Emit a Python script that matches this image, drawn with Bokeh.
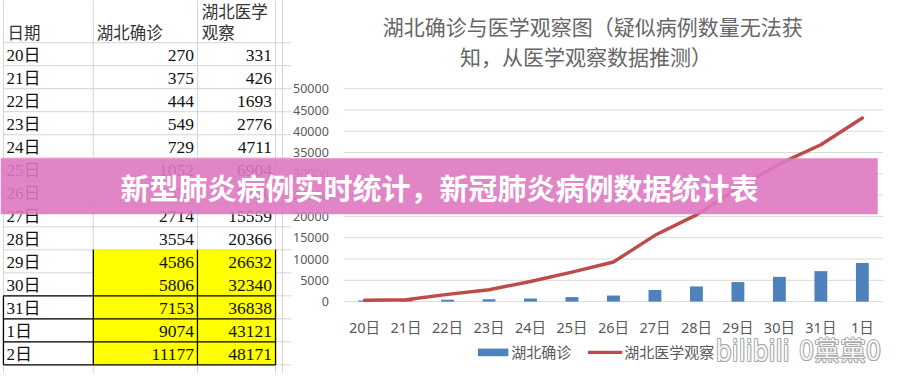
from bokeh.plotting import figure
from bokeh.models import Range1d
from bokeh.core.properties import value
from bokeh.embed import file_html
from bokeh.resources import INLINE

# ---------------- data ----------------
table_dates = ["20日", "21日", "22日", "23日", "24日", "25日", "26日",
               "27日", "28日", "29日", "30日", "31日", "1日", "2日"]
hubei_confirmed = [270, 375, 444, 549, 729, 1052, 1423, 2714, 3554,
                   4586, 5806, 7153, 9074, 11177]
hubei_observed = [331, 426, 1693, 2776, 4711, 6904, 9300, 15559, 20366,
                  26632, 32340, 36838, 43121, 48171]
header_labels = ["日期", "湖北确诊", "湖北医学", "观察"]

chart_days = table_dates[:13]
chart_confirmed = hubei_confirmed[:13]
chart_observed = hubei_observed[:13]
y_ticks = [0, 5000, 10000, 15000, 20000, 25000, 30000, 35000, 40000, 45000, 50000]
y_tick_labels = [str(t) for t in y_ticks]

title_lines = ["湖北确诊与医学观察图（疑似病例数量无法获", "知，从医学观察数据推测）"]
legend_labels = ["湖北确诊", "湖北医学观察"]
banner_text = "新型肺炎病例实时统计，新冠肺炎病例数据统计表"
watermark = ["bilibili", "0黨黨0"]

# ---------------- styles ----------------
CJK = value("Noto Sans CJK SC")
TABLE_FONT = value("Liberation Serif, Noto Sans CJK SC")
GREY_TXT = "#595959"
BAR_C = "#4f81bd"
LINE_C = "#be4b48"
GRID_C = "#d9d9d9"
CELL_C = "#d4d4d4"

# canvas in reference pixel units (904 x 389), y downward
p = figure(width=888, height=373, x_range=Range1d(0, 904), y_range=Range1d(389, 0),
           x_axis_type=None, y_axis_type=None, output_backend="svg",
           toolbar_location=None, min_border=0)
p.outline_line_color = None
p.background_fill_color = "white"
p.border_fill_color = "white"

# ---------------- left table ----------------
n_rows = len(table_dates)
row_top0, row_h = 44, 24
row_edges = [row_top0 + row_h * i for i in range(n_rows + 1)]
row_mid = [row_top0 + row_h * i + 13 for i in range(n_rows)]
col_edges = [3, 94.5, 200.5, 280, 287]

p.segment(x0=3, x1=296, y0=row_edges, y1=row_edges, line_color=CELL_C, line_width=1)
p.segment(x0=col_edges, x1=col_edges, y0=0, y1=389, line_color=CELL_C, line_width=1)

hl0 = table_dates.index("29日")
p.quad(left=col_edges[1], right=col_edges[3], top=row_edges[hl0], bottom=row_edges[-1],
       fill_color="#ffff00", line_color=None)
box0 = table_dates.index("31日")
p.segment(x0=col_edges[0], x1=col_edges[3], y0=row_edges[box0:], y1=row_edges[box0:],
          line_color="black", line_width=1.3)
p.segment(x0=col_edges[1:4], x1=col_edges[1:4], y0=row_edges[hl0], y1=row_edges[-1],
          line_color="black", line_width=1.3)
p.segment(x0=col_edges[0], x1=col_edges[0], y0=row_edges[box0], y1=row_edges[-1],
          line_color="black", line_width=1.3)

p.text(x=[7, 98], y=[33, 33], text=header_labels[:2], text_font=CJK,
       text_font_size="16.5px", text_color="#333333", text_baseline="middle")
p.text(x=[205, 205], y=[11, 33], text=header_labels[2:], text_font=CJK,
       text_font_size="16.5px", text_color="#333333", text_baseline="middle")

p.text(x=6, y=row_mid, text=table_dates, text_font=TABLE_FONT, text_font_size="17px",
       text_color="#111111", text_baseline="middle")
p.text(x=197, y=row_mid, text=[str(v) for v in hubei_confirmed], text_font=TABLE_FONT,
       text_font_size="17.5px", text_color="#111111", text_baseline="middle", text_align="right")
p.text(x=276.5, y=row_mid, text=[str(v) for v in hubei_observed], text_font=TABLE_FONT,
       text_font_size="17.5px", text_color="#111111", text_baseline="middle", text_align="right")

# ---------------- chart ----------------
p.text(x=[603, 596], y=[27, 58], text=title_lines, text_font=CJK, text_font_size="21px",
       text_color="#666666", text_align="center", text_baseline="middle")

plot_left, plot_right, y_bottom, y_top = 349.5, 898.5, 314, 92
n_cat = len(chart_days)
ch = p.subplot(x_source=Range1d(0, n_cat), y_source=Range1d(0, 50000),
               x_target=Range1d(plot_left, plot_right), y_target=Range1d(y_bottom, y_top))
cat_x = [i + 0.5 for i in range(n_cat)]

ch.segment(x0=0, x1=n_cat, y0=y_ticks, y1=y_ticks, line_color=GRID_C, line_width=1)
ch.text(x=0, y=y_ticks, text=y_tick_labels, x_offset=-15, text_align="right",
        text_baseline="middle", text_font=value("Noto Sans"), text_font_size="12.5px",
        text_color=GREY_TXT)

ch.vbar(x=cat_x, top=chart_confirmed, bottom=0, width=0.31,
        fill_color=BAR_C, line_color=None)
ch.line(x=cat_x, y=chart_observed, line_color=LINE_C, line_width=3.4,
        line_join="round", line_cap="round")
ch.text(x=cat_x, y=0, text=chart_days, y_offset=25, text_align="center",
        text_baseline="middle", text_font=value("Noto Sans, Noto Sans CJK SC"),
        text_font_size="14.5px", text_color=GREY_TXT)

# legend
p.quad(left=486, right=517, top=363, bottom=371, fill_color=BAR_C, line_color=None)
p.segment(x0=598, x1=633, y0=367, y1=367, line_color=LINE_C, line_width=3.4)
p.text(x=[520, 635], y=[366, 366], text=legend_labels, text_font=CJK,
       text_font_size="15px", text_color=GREY_TXT, text_baseline="middle")

# watermark (outlined look)
wm_font = value("DejaVu Sans Condensed, Noto Sans CJK SC")
wm_sizes = ["28px", "26px"]
for i, (wx, wtxt) in enumerate(zip([728, 813], watermark)):
    for dx, dy in [(-1, 0), (1, 0), (0, -1), (0, 1), (-0.7, -0.7), (0.7, 0.7), (-0.7, 0.7), (0.7, -0.7)]:
        p.text(x=[wx + dx], y=[366 + dy], text=[wtxt], text_font=wm_font,
               text_font_size=wm_sizes[i], text_color="#a8a8a8", text_baseline="middle")
    p.text(x=[wx], y=[366], text=[wtxt], text_font=wm_font, text_font_size=wm_sizes[i],
           text_color="#f6f6f6", text_baseline="middle")

# ---------------- banner ----------------
p.quad(left=0, right=893, top=164.5, bottom=223, fill_color="#df78c0", fill_alpha=0.9,
       line_color=None)
p.text(x=447, y=194, text=[banner_text], text_font=CJK, text_font_style="bold",
       text_font_size="29px", text_color="white", text_align="center", text_baseline="middle")

open("out.html", "w").write(file_html(p, INLINE))
